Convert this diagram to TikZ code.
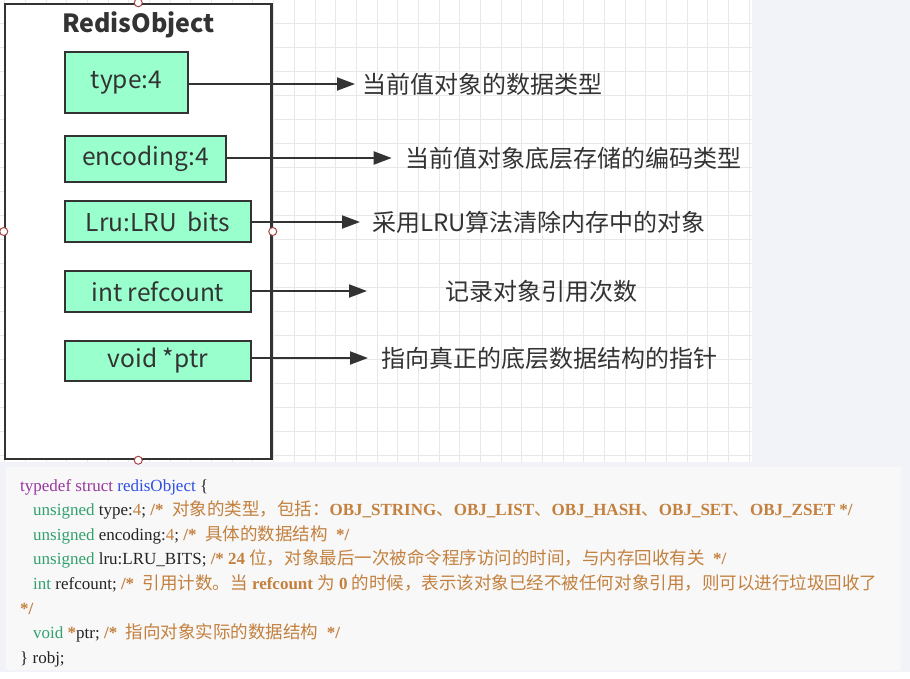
\documentclass[tikz,border=0pt]{standalone}
\usepackage{fontspec}
\setmainfont{Liberation Serif}
\newfontfamily\cjk{Noto Sans CJK SC}
\newfontfamily\cjkcode[Scale=1.03]{Noto Sans CJK SC}
\usetikzlibrary{arrows.meta}
\definecolor{pagebg}{RGB}{242,243,248}
\definecolor{gridc}{RGB}{232,232,232}
\definecolor{codebg}{RGB}{248,248,248}
\definecolor{ink}{RGB}{51,51,51}
\definecolor{mint}{RGB}{153,255,204}
\definecolor{handle}{RGB}{170,70,70}
\definecolor{kwpurple}{RGB}{150,55,160}
\definecolor{kwblue}{RGB}{45,80,230}
\definecolor{kwgreen}{RGB}{50,160,110}
\definecolor{cmtbrown}{RGB}{195,128,62}
\definecolor{codeink}{RGB}{35,35,35}
\newcommand\zh[1]{{\cjkcode\mdseries #1}}
\newcommand\kwg[1]{\textcolor{kwgreen}{#1}}
\newcommand\cmt[1]{\textcolor{cmtbrown}{\bfseries #1}}
\newcommand\numc[1]{\textcolor{cmtbrown}{#1}}
\begin{document}
\begin{tikzpicture}[x=1pt,y=-1pt,
  field/.style={draw=ink, line width=2pt, fill=mint, text=ink, inner sep=0pt,
    font=\cjk\fontsize{24.5}{28}\selectfont},
  note/.style={anchor=west, text=ink, inner sep=0pt, font=\cjk\fontsize{24}{28}\selectfont},
  conn/.style={draw=ink, line width=2pt, -{Triangle[length=18pt,width=13pt]}},
  hdl/.style={circle, draw=handle, fill=white, line width=1pt, minimum size=8pt, inner sep=0pt},
  codeline/.style={anchor=base west, inner sep=0pt, text=codeink, font=\fontsize{17}{20}\selectfont},
  gridline/.style={draw=gridc, line width=1pt}]
\useasboundingbox (0,0) rectangle (910,678);
% backgrounds
\fill[pagebg] (0,0) rectangle (910,672);
\fill[white] (0,672) rectangle (910,678);
\fill[white] (0,0) rectangle (752,462);
\foreach \i in {0,...,36} \draw[gridline] ({4.8+20.68*\i},0) -- ({4.8+20.68*\i},462);
\foreach \j in {0,...,18} \draw[gridline] (0,{23.3+24*\j}) -- (752,{23.3+24*\j});
\fill[codebg] (6,467) rectangle (901,670);
% container
\node[draw=ink, line width=2.5pt, fill=white, minimum width=266.5pt, minimum height=455pt, inner sep=0pt] (obj) at (138.25,231.5) {};
\node[anchor=base, text=ink, inner sep=0pt, font=\cjk\bfseries\fontsize{25}{30}\selectfont] (title) at (138.5,32.3) {RedisObject};
\node[hdl] (h1) at (obj.north) {};
\node[hdl] (h2) at (obj.west) {};
\node[hdl] (h3) at (obj.east) {};
\node[hdl] (h4) at (obj.south) {};
% fields
\node[field, minimum width=123pt, minimum height=61pt] (type) at (126.5,82.5) {type:4};
\node[field, minimum width=161pt, minimum height=46pt] (enc) at (145.5,159) {encoding:4};
\node[field, minimum width=185.7pt, minimum height=41pt] (lru) at (157.85,221.5) {Lru:LRU\ \ bits};
\node[field, minimum width=185.7pt, minimum height=41pt] (ref) at (157.85,291.5) {int refcount};
\node[field, minimum width=185.7pt, minimum height=40pt] (ptr) at (157.85,361) {void *ptr};
% notes
\node[note] (t1) at (362,84) {当前值对象的数据类型};
\node[note] (t2) at (405,158) {当前值对象底层存储的编码类型};
\node[note] (t3) at (372,222) {采用LRU算法清除内存中的对象};
\node[note] (t4) at (445.7,291) {记录对象引用次数};
\node[note] (t5) at (381.7,358) {指向真正的底层数据结构的指针};
\coordinate (e1) at (355,84);
\coordinate (e2) at (391.7,158);
\coordinate (e3) at (360,222);
\coordinate (e4) at (367,291);
\coordinate (e5) at (368,358);
\draw[conn] (type.east |- e1) -- (e1);
\draw[conn] (enc.east |- e2) -- (e2);
\draw[conn] (lru.east |- e3) -- (e3);
\draw[conn] (ref.east |- e4) -- (e4);
\draw[conn] (ptr.east |- e5) -- (e5);
% code
\node[codeline] (c1) at (20,491) {\textcolor{kwpurple}{typedef struct} \textcolor{kwblue}{redisObject} \{};
\node[codeline] (c2) at (33,515.6) {\kwg{unsigned} type:\numc{4}; \cmt{/*\ \ \zh{对象的类型，包括：}OBJ\_STRING\zh{、}OBJ\_LIST\zh{、}OBJ\_HASH\zh{、}OBJ\_SET\zh{、}OBJ\_ZSET */}};
\node[codeline] (c3) at (33,540.2) {\kwg{unsigned} encoding:\numc{4}; \cmt{/*\ \ \zh{具体的数据结构}\ \ */}};
\node[codeline] (c4) at (33,564.8) {\kwg{unsigned} lru:LRU\_BITS; \cmt{/* 24 \zh{位，对象最后一次被命令程序访问的时间，与内存回收有关}\ \ */}};
\node[codeline] (c5) at (33,589.4) {\kwg{int} refcount; \cmt{/*\ \ \zh{引用计数。当} refcount \zh{为} 0 \zh{的时候，表示该对象已经不被任何对象引用，则可以进行垃圾回收了}}};
\node[codeline] (c6) at (20,614) {\cmt{*/}};
\node[codeline] (c7) at (33,638.6) {\kwg{void} \cmt{*}ptr; \cmt{/*\ \ \zh{指向对象实际的数据结构}\ \ */}};
\node[codeline] (c8) at (20,663.2) {\} robj;};
\end{tikzpicture}
\end{document}
